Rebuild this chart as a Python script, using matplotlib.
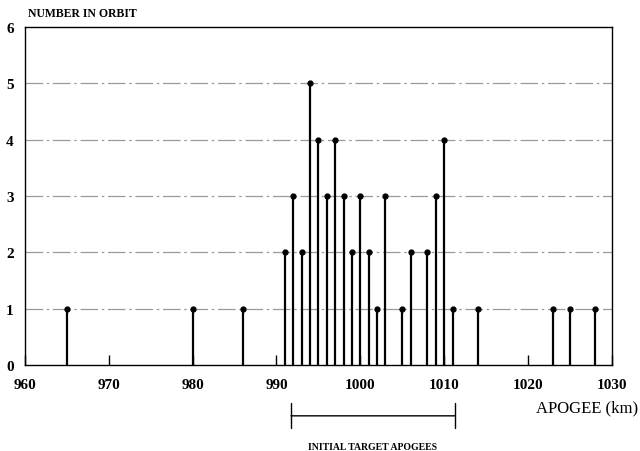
import matplotlib
matplotlib.use('Agg')
import matplotlib.pyplot as plt

# 数据：远地点(km) 与 在轨数量
apogee_km = [965, 980, 986, 991, 992, 993, 994, 995, 996, 997, 998, 999, 1000,
             1001, 1002, 1003, 1005, 1006, 1008, 1009, 1010, 1011, 1014,
             1023, 1025, 1028]
number_in_orbit = [1, 1, 1, 2, 3, 2, 5, 4, 3, 4, 3, 2, 3,
                   2, 1, 3, 1, 2, 2, 3, 4, 1, 1,
                   1, 1, 1]
x_ticks = [960, 970, 980, 990, 1000, 1010, 1020, 1030]
y_ticks = [0, 1, 2, 3, 4, 5, 6]
target_range = (991.4, 1011.6)  # 初始目标远地点区间

plt.rcParams['font.family'] = ['Liberation Serif', 'DejaVu Serif']

fig = plt.figure(figsize=(6.4, 4.52), dpi=100)
ax = fig.add_axes([0.039, 0.190, 0.917, 0.748])

# 网格线
for y in y_ticks[1:-1]:
    ax.axhline(y, color='0.6', lw=0.9, ls=(0, (14, 3, 2, 3)), zorder=1)

ax.vlines(apogee_km, 0, number_in_orbit, color='black', lw=1.6, zorder=3)
ax.plot(apogee_km, number_in_orbit, 'o', color='black', ms=3.5, zorder=4)

ax.set_xlim(960, 1030)
ax.set_ylim(0, 6)
ax.set_xticks(x_ticks)
ax.set_yticks(y_ticks)
ax.tick_params(axis='x', direction='in', length=7, width=1, pad=9, labelsize=11)
ax.tick_params(axis='y', length=0, pad=8, labelsize=11)
for lab in ax.get_xticklabels() + ax.get_yticklabels():
    lab.set_fontweight('bold')
for sp in ax.spines.values():
    sp.set_linewidth(1.0)

fig.text(28 / 640, 1 - 14 / 452, 'NUMBER IN ORBIT', fontsize=8.5,
         fontweight='bold', ha='left', va='center')
fig.text(1.0 - 2 / 640, 1 - 408 / 452, 'APOGEE (km)', fontsize=12,
         ha='right', va='center')

# 目标区间括号
y_br = -0.9
ax.annotate('', xy=(target_range[0], y_br), xytext=(target_range[1], y_br),
            xycoords='data', textcoords='data', annotation_clip=False,
            arrowprops=dict(arrowstyle='|-|', lw=1.0, color='black',
                            mutation_scale=9))
ax.text(sum(target_range) / 2, -1.44, 'INITIAL TARGET APOGEES', fontsize=7,
        fontweight='bold', ha='center', va='center', clip_on=False)

plt.savefig('out.png', dpi=100)
